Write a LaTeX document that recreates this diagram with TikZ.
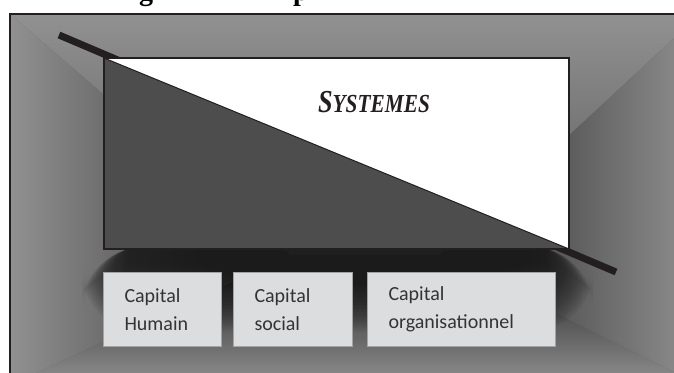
\documentclass[tikz,border=0pt]{standalone}
\usepackage{fontspec}
\setmainfont{Liberation Serif}
\newfontfamily\capfont{Carlito}
\definecolor{bglight}{HTML}{919191}
\definecolor{bgdark}{HTML}{1B1B1B}
\definecolor{bgmid}{HTML}{2A2A2A}
\definecolor{bgtop}{HTML}{5A5A5A}
\definecolor{inkdark}{HTML}{231F20}
\definecolor{sysgray}{HTML}{4D4D4D}
\definecolor{boxfill}{HTML}{DCDDDF}
\definecolor{boxline}{HTML}{A3A3A3}
\definecolor{captext}{HTML}{333333}
\tikzset{
  capbox/.style={draw=boxline, fill=boxfill, line width=1pt, anchor=north west,
    align=left, minimum height=74pt, inner xsep=21pt, inner ysep=0pt,
    font=\capfont\fontsize{20}{28}\selectfont, text=captext},
  titlefrag/.style={font=\bfseries\fontsize{28}{28}\selectfont, anchor=base, inner sep=0pt}
}
\begin{document}
\begin{tikzpicture}[x=1pt, y=-1pt]
            \useasboundingbox (0,0) rectangle (674,372);
            \clip (0,0) rectangle (674,372);
            \fill[white] (0,0) rectangle (674,372);
            % cut-off title above the frame
            \node[titlefrag] (titleg) at (146,1) {g};
            \node[titlefrag] (titlep) at (301,1) {p};
            % frame with a rectangular path gradient
            \coordinate (tl) at (10,14);
            \coordinate (tr) at (700,14);
            \coordinate (br) at (700,385);
            \coordinate (bl) at (10,385);
            \coordinate (cl) at (290,255);
            \coordinate (cr) at (440,255);
            \fill[bglight!50!bgdark] (tl) rectangle (br);
            \begin{scope}
                \clip (tl) -- (tr) -- (cr) -- (cl) -- cycle;
                \shade[top color=bglight, bottom color=bgtop] (10,14) rectangle (700,255);
            \end{scope}
            \begin{scope}
                \clip (bl) -- (br) -- (cr) -- (cl) -- cycle;
                \shade[top color=bgdark, bottom color=bglight] (10,255) rectangle (700,385);
            \end{scope}
            \begin{scope}
                \clip (tl) -- (cl) -- (bl) -- cycle;
                \shade[left color=bglight, right color=bgmid] (10,14) rectangle (290,385);
            \end{scope}
            \begin{scope}
                \clip (tr) -- (cr) -- (br) -- cycle;
                \shade[left color=bgmid, right color=bglight] (440,14) rectangle (700,385);
            \end{scope}
            % soft shadow under the block
            \begin{scope}
                \clip (tl) rectangle (br);
                \foreach \k in {1,...,30}
                    \fill[bgdark, opacity=0.06, rounded corners=\k*2pt]
                        (130-\k*1.6, 248) rectangle (545+\k*1.6, 262+\k*2.3);
            \end{scope}
            \draw[inkdark, line width=2pt] (tl) rectangle (br);
            % the cut line and the systems block
            \coordinate (cutA) at (59,35);
            \coordinate (cutB) at (616,272);
            \draw[inkdark, line width=7pt] (cutA) -- (cutB);
            \coordinate (sysNW) at (104,58);
            \coordinate (sysSE) at (569,249);
            \fill[white] (sysNW) rectangle (sysSE);
            \fill[sysgray] (sysNW) -- (sysNW |- sysSE) -- (sysSE) -- cycle;
            \draw[inkdark, line width=1pt] (sysNW) -- (sysSE);
            \draw[inkdark, line width=2pt] (sysNW) rectangle (sysSE);
            \node[anchor=base, inner sep=0pt, text=inkdark] (sys) at (374,112)
                {\scalebox{0.82}[1]{\bfseries\itshape\fontsize{32}{32}\selectfont S\fontsize{26}{26}\selectfont YSTEMES}};
            % the three capitals
            \node[capbox, text width=76pt] (humain) at (103,272) {Capital\\Humain};
            \node[capbox, text width=77pt] (social) at (233,272) {Capital\\social};
            \node[capbox, text width=146pt] (organis) at (367,272) {Capital\\organisationnel};
        \end{tikzpicture}
\end{document}
